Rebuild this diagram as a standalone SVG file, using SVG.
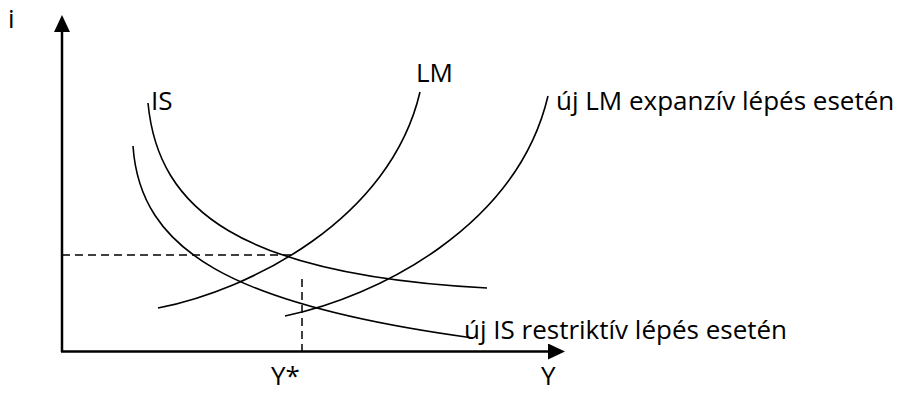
<svg xmlns="http://www.w3.org/2000/svg" width="897" height="394" viewBox="0 0 897 394">
<style>
text{font-family:"Open Sans","Liberation Sans",sans-serif;font-size:26px;fill:#000}
.c{fill:none;stroke:#000;stroke-width:1.6}
.ax{fill:none;stroke:#000;stroke-width:2.5}
.d{fill:none;stroke:#000;stroke-width:1.5;stroke-dasharray:8 5}
</style>
<defs>
<marker id="ah" markerWidth="17" markerHeight="16" refX="1" refY="8" orient="auto" markerUnits="userSpaceOnUse" viewBox="0 0 17 16">
<path d="M0,0 L17,8 L0,16 Z" fill="#000"/>
</marker>
</defs>
<rect width="897" height="394" fill="#fff"/>
<g id="axes">
<line class="ax" x1="62" y1="352" x2="62" y2="31" marker-end="url(#ah)"/>
<line class="ax" x1="61" y1="351.5" x2="549" y2="351.5" marker-end="url(#ah)"/>
</g>
<g id="connectors">
<path class="d" d="M62,255 H294"/>
<path class="d" d="M302,279 V352"/>
</g>
<g id="IS">
<path class="c" d="M148,103 C158,210 240,275 487,288"/>
<text x="151" y="110">IS</text>
</g>
<g id="IS-new">
<path class="c" d="M133,146 C140,250 230,305 473,338"/>
<text x="464" y="339">új IS restriktív lépés esetén</text>
</g>
<g id="LM">
<path class="c" d="M158,308 C250,290 390,220 420,92"/>
<text x="416" y="82">LM</text>
</g>
<g id="LM-new">
<path class="c" d="M285,316 C377,297 517,227 548,96"/>
<text x="556" y="110">új LM expanzív lépés esetén</text>
</g>
<g id="labels">
<text x="8" y="28">i</text>
<text x="271" y="385">Y*</text>
<text x="541" y="385">Y</text>
</g>
</svg>
